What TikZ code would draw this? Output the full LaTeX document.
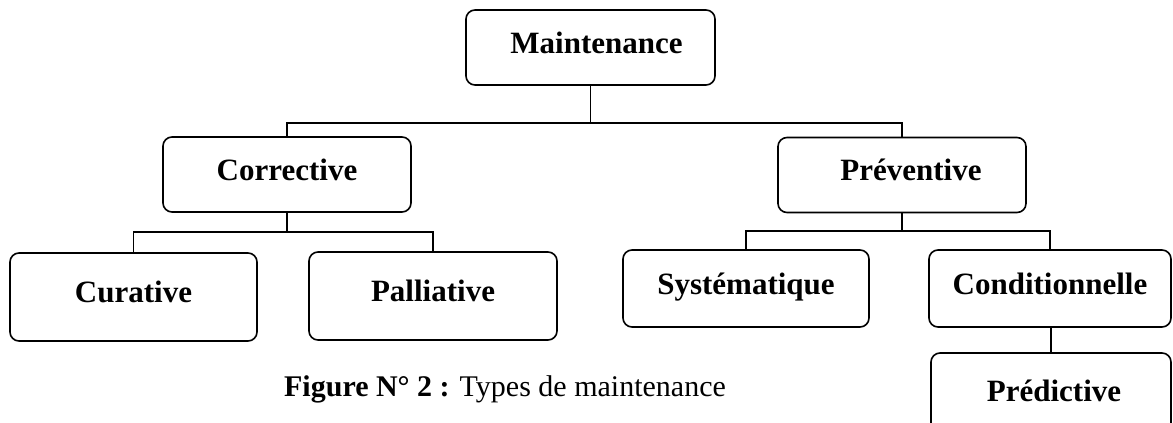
\documentclass[tikz,border=0pt]{standalone}
\usepackage{fontspec}
\setmainfont{Liberation Serif}
\begin{document}
\begin{tikzpicture}[x=1pt,y=1pt,
  box/.style={draw, line width=1.6pt, rounded corners=9pt, inner sep=0pt,
    font=\fontsize{31}{36}\selectfont\bfseries, text height=22pt, text depth=11pt},
  link/.style={line width=1.6pt}]
\useasboundingbox (0,0) rectangle (1173,-423);
\node[box, minimum width=249pt, minimum height=75pt] (m)  at (590.5,-47.5) {\hspace*{12pt}Maintenance};
\node[box, minimum width=248pt, minimum height=75pt] (c)  at (287,-174.5) {Corrective};
\node[box, minimum width=248pt, minimum height=75pt] (p)  at (902,-175) {\hspace*{18pt}Préventive};
\node[box, minimum width=247pt, minimum height=88pt] (cu) at (133.5,-297) {Curative};
\node[box, minimum width=248pt, minimum height=88pt] (pa) at (433,-296) {Palliative};
\node[box, minimum width=246pt, minimum height=77pt] (sy) at (746,-288.5) {Systématique};
\node[box, minimum width=242pt, minimum height=77pt] (co) at (1050,-288.5) {Conditionnelle};
\node[box, minimum width=240pt, minimum height=86pt] (pr) at (1051,-396) {\hspace*{6pt}Prédictive};
\coordinate (j1) at (590.5,-123);
\coordinate (j2) at (287,-232);
\coordinate (j3) at (902,-231);
\draw[link] (m.south) -- (j1);
\draw[link] (c.north) |- (j1) -| (p.north);
\draw[link] (c.south) -- (j2);
\draw[link] (cu.north) |- (j2) -| (pa.north);
\draw[link] (p.south) -- (j3);
\draw[link] (sy.north) |- (j3) -| (co.north);
\draw[link] (pr.north) -- (pr.north |- co.south);
\node[anchor=base, font=\fontsize{30}{36}\selectfont] (cap) at (505,-396) {\textbf{Figure N° 2 :} Types de maintenance};
\end{tikzpicture}
\end{document}
